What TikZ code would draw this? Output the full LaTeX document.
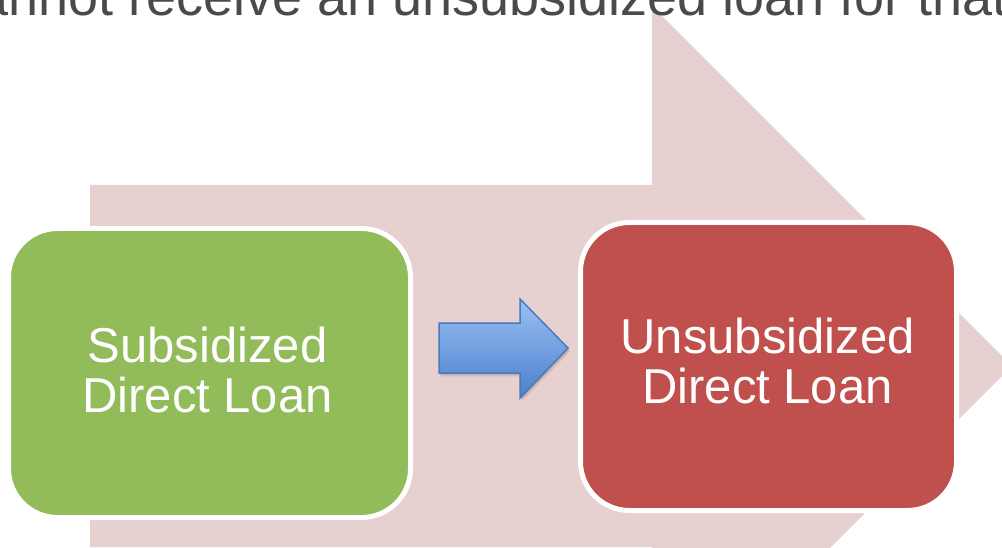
\documentclass[tikz,border=0pt]{standalone}
\usepackage{fontspec}
\setmainfont{Liberation Sans}
\definecolor{bandpink}{HTML}{E7D0D0}
\definecolor{leafgreen}{HTML}{92BB5A}
\definecolor{brick}{HTML}{C0504D}
\definecolor{titlegray}{HTML}{4A4A4A}
\definecolor{skytop}{HTML}{9BC0F5}
\definecolor{skybottom}{HTML}{4A80CC}
\definecolor{skyedge}{HTML}{4A7BBA}
\begin{document}
\begin{tikzpicture}[x=1pt,y=-1pt,
  loanbox/.style={draw=white, line width=5pt, rounded corners=49pt, inner sep=0pt},
  loantext/.style={text=white, align=center, inner sep=0pt, font=\fontsize{49}{50}\selectfont},
  titletext/.style={text=titlegray, inner sep=0pt, font=\fontsize{54}{54}\selectfont},
]
\useasboundingbox (0,0) rectangle (1002,548);
\fill[white] (0,0) rectangle (1002,548);

% wide pale arrow behind the two steps
\fill[bandpink] (90,185) -- (652,185) -- (652,6) -- (1012,366) -- (652,726)
  -- (652,547) -- (90,547) -- cycle;

% heading line, running past both edges
\node[titletext, anchor=base west] (heading) at (-22,16)
  {annot receive an unsubsidized loan for that};

% the two loan steps
\node[loanbox, fill=leafgreen, minimum width=402pt, minimum height=289pt]
  (sub) at (209.5,373) {};
\node[loanbox, fill=brick, minimum width=376pt, minimum height=288pt]
  (unsub) at (768.5,366.5) {};
\node[loantext] (subtext) at (207.5,369.5) {Subsidized\\Direct Loan};
\node[loantext] (unsubtext) at (767.5,360.8) {Unsubsidized\\Direct Loan};

% blue block arrow between the steps, with a soft drop shadow
\foreach \s/\o in {1.2/0.10, 2.4/0.08, 3.6/0.06}
  \fill[black, opacity=\o, shift={(0.6*\s,\s)}]
    (439,323) -- (520,323) -- (520,299) -- (568,348) -- (520,398)
    -- (520,373) -- (439,373) -- cycle;
\shade[top color=skytop, bottom color=skybottom, draw=skyedge, line width=1.5pt,
  line join=miter]
  (439,323) -- (520,323) -- (520,299) -- (568,348) -- (520,398)
  -- (520,373) -- (439,373) -- cycle;
\end{tikzpicture}
\end{document}
